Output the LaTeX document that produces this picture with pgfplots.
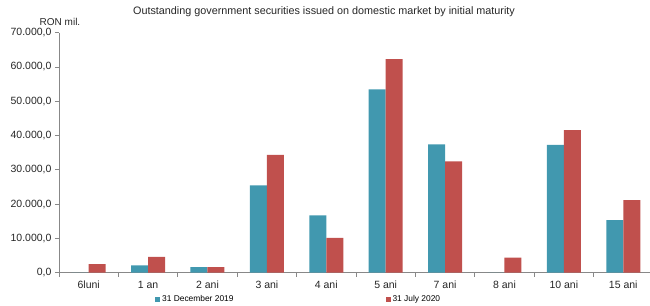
\documentclass[border=0pt]{standalone}
\usepackage{fontspec}
\setmainfont{Liberation Sans}
\usepackage{pgfplots}
\pgfplotsset{compat=1.18}
\definecolor{cblue}{HTML}{4198AF}
\definecolor{cred}{HTML}{C0504D}
\definecolor{axgray}{HTML}{888888}
\begin{document}
\begin{tikzpicture}
\useasboundingbox (0,0) rectangle (650bp,306bp);
\begin{axis}[
  at={(59bp,33.3bp)}, anchor=south west,
  scale only axis, width=591bp, height=240bp,
  xmin=-0.5, xmax=9.45, ymin=0, ymax=70000,
  axis x line*=bottom, axis y line*=left,
  axis line style={-, draw=axgray, line width=0.8bp},
  ybar=0pt, bar width=17bp,
  xtick={0,...,9},
  xticklabels={6luni,1 an,2 ani,3 ani,4 ani,5 ani,7 ani,8 ani,10 ani,15 ani},
  minor xtick={-0.5,0.5,...,9.5},
  major x tick style={draw=none},
  minor x tick style={draw=axgray, line width=0.8bp},
  minor tick length=4bp,
  ytick={0,10000,...,70000},
  major y tick style={draw=axgray, line width=0.8bp},
  major tick length=4bp,
  tick align=outside,
  yticklabel style={/pgf/number format/.cd, fixed, fixed zerofill, precision=1, 1000 sep={.}, dec sep={,}, assume math mode=true},
  scaled y ticks=false,
  tick label style={font=\fontsize{10.5bp}{12bp}\selectfont, text=black!85},
  xticklabel style={yshift=-1bp},
  legend style={draw=none, at={(0.4055,-0.11)}, anchor=center, font=\fontsize{8.4bp}{10bp}\selectfont, legend columns=2, inner sep=0pt},
  legend image code/.code={\fill[#1] (0bp,-2.5bp) rectangle (5bp,2.5bp);},
  /tikz/every even column/.append style={column sep=150bp},
  clip=false,
]
\addplot[fill=cblue, draw=none] coordinates {(0,0) (1,2150) (2,1650) (3,25480) (4,16700) (5,53470) (6,37400) (7,0) (8,37300) (9,15300)};
\addplot[fill=cred, draw=none] coordinates {(0,2500) (1,4650) (2,1650) (3,34400) (4,10150) (5,62300) (6,32500) (7,4370) (8,41600) (9,21200)};
\legend{31 December 2019, 31 July 2020}
\end{axis}
\node[font=\fontsize{10.8bp}{13bp}\selectfont, text=black!85] at (324bp,294bp) {Outstanding government securities issued on domestic market by initial maturity};
\node[font=\fontsize{10bp}{12bp}\selectfont, text=black!85] at (60bp,284bp) {RON mil.};
\end{tikzpicture}
\end{document}
